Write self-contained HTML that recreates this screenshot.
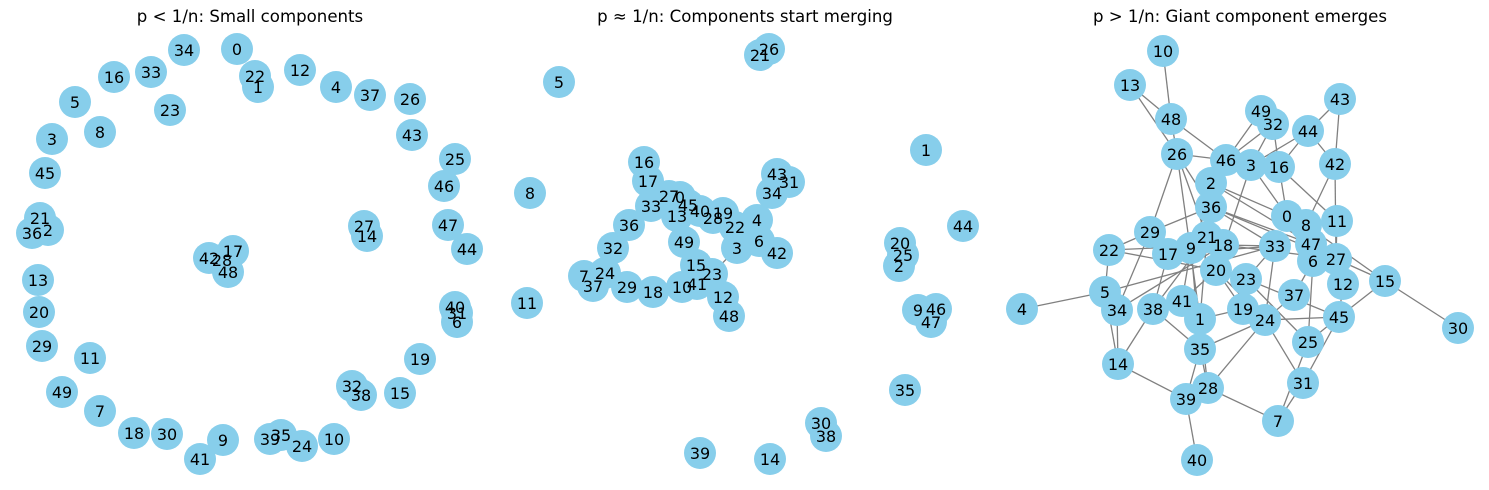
<!DOCTYPE html>
<html><head><meta charset="utf-8"><style>
body{margin:0;background:#fff;}
svg{display:block;font-family:"DejaVu Sans","Liberation Sans",sans-serif;}
</style></head><body>
<svg id="chart" width="1489" height="490" viewBox="0 0 1489 490">
<text x="250" y="22" text-anchor="middle" font-size="16.6">p &lt; 1/n: Small components</text>
<text x="745" y="22" text-anchor="middle" font-size="16.6">p ≈ 1/n: Components start merging</text>
<text x="1240" y="22" text-anchor="middle" font-size="16.6">p &gt; 1/n: Giant component emerges</text>
<g id="g1"></g>
<g id="g2"></g>
<g id="g3"></g>
</svg>
<script>
const pos1 = {34:[184,50],0:[237,49],22:[255,76],1:[258,87],12:[300,70],4:[336,87],37:[370,95],26:[410,99],16:[114,77],33:[151,72],23:[170,110],5:[75,102],8:[100,132],3:[52,139],45:[45,173],21:[40,218],2:[48,230],36:[32,233],13:[38,280],20:[39,312],29:[42,346],11:[90,358],49:[62,392],7:[100,411],18:[134,433],30:[167,434],9:[223,440],41:[200,459],39:[270,439],35:[281,435],24:[302,446],10:[334,439],15:[400,393],32:[352,386],38:[361,395],19:[420,359],40:[455,307],31:[457,313],6:[457,322],44:[467,249],47:[448,225],46:[444,186],25:[455,159],43:[412,135],27:[364,226],14:[367,236],42:[209,258],28:[222,260],17:[233,251],48:[228,272]};
const edges1 = [];
const pos2 = {5:[559,82],21:[760,55],26:[769,49],1:[926,150],8:[530,193],44:[963,226],20:[900,243],25:[903,255],2:[899,266],11:[527,303],9:[918,310],46:[936,309],47:[931,322],35:[905,390],30:[821,423],38:[826,436],39:[700,453],14:[770,459],16:[644,162],17:[648,181],27:[669,196],0:[680,197],45:[688,205],33:[651,206],13:[677,216],40:[700,211],28:[713,218],19:[723,213],22:[735,227],4:[757,220],43:[777,174],31:[789,182],34:[772,193],36:[629,225],49:[684,242],6:[759,241],42:[777,253],3:[737,248],32:[613,248],15:[696,265],23:[712,274],7:[584,276],24:[605,273],37:[593,286],29:[627,287],18:[653,292],10:[682,287],41:[697,284],12:[723,297],48:[729,316]};
const edges2 = [[3,23]];
const pos3 = {10:[1163,51],13:[1130,85],48:[1171,119],26:[1177,154],46:[1226,160],2:[1211,183],36:[1211,207],29:[1150,232],22:[1109,250],17:[1168,254],9:[1191,248],21:[1207,237],49:[1261,111],32:[1273,124],44:[1308,131],43:[1340,99],3:[1251,165],16:[1279,167],42:[1335,164],0:[1287,216],8:[1306,225],11:[1337,221],18:[1223,245],33:[1275,246],47:[1311,244],6:[1313,261],27:[1336,259],20:[1216,270],23:[1246,279],15:[1385,281],12:[1343,284],37:[1294,295],5:[1105,292],4:[1022,309],34:[1117,310],38:[1153,309],41:[1182,301],1:[1200,319],19:[1243,309],24:[1265,320],45:[1339,317],25:[1308,342],35:[1200,349],14:[1118,364],28:[1208,388],39:[1186,399],31:[1303,383],7:[1278,421],40:[1197,460],30:[1458,328]};
const edges3 = [[10,48],[13,48],[13,26],[48,26],[48,46],[26,46],[26,36],[26,29],[26,21],[26,1],[46,49],[46,32],[46,9],[3,32],[3,44],[3,0],[3,20],[16,44],[16,32],[16,0],[16,11],[44,43],[44,42],[43,42],[42,8],[42,27],[2,0],[2,47],[36,29],[36,33],[36,21],[29,22],[29,17],[29,34],[22,5],[22,18],[17,33],[17,38],[9,41],[9,35],[21,1],[18,33],[18,20],[18,27],[18,34],[33,23],[33,24],[0,8],[0,47],[8,15],[11,27],[27,12],[27,15],[6,37],[6,25],[20,19],[20,24],[20,22],[23,19],[23,45],[23,25],[37,24],[45,25],[45,15],[45,31],[5,4],[5,34],[5,14],[5,33],[34,14],[38,14],[38,35],[41,1],[1,19],[1,28],[35,24],[35,28],[35,39],[24,28],[24,31],[24,45],[14,39],[39,40],[28,7],[31,7],[25,7],[15,30],[12,45],[36,27],[41,20],[38,21],[36,47],[49,32]];
const NS='http://www.w3.org/2000/svg';
function draw(gid,pos,edges){
  const g=document.getElementById(gid);
  edges.forEach(e=>{
    const a=pos[e[0]],b=pos[e[1]];
    const l=document.createElementNS(NS,'line');
    
    
    l.setAttribute('x1',a[0]);l.setAttribute('y1',a[1]);l.setAttribute('x2',b[0]);l.setAttribute('y2',b[1]);
    l.setAttribute('stroke','#808080');l.setAttribute('stroke-width','1.3');
    g.appendChild(l);
  });
  Object.keys(pos).forEach(k=>{
    const p=pos[k];
    const c=document.createElementNS(NS,'circle');
    
    
    c.setAttribute('cx',p[0]);c.setAttribute('cy',p[1]);c.setAttribute('r',16);c.setAttribute('fill','#87ceeb');
    g.appendChild(c);
  });
  Object.keys(pos).forEach(k=>{
    const p=pos[k];
    const t=document.createElementNS(NS,'text');
    
    
    t.setAttribute('x',p[0]);t.setAttribute('y',p[1]+5.8);t.setAttribute('text-anchor','middle');t.setAttribute('font-size','16');
    t.textContent=k;
    g.appendChild(t);
  });
}
draw('g1',pos1,edges1);
draw('g2',pos2,edges2);
draw('g3',pos3,edges3);
</script>
</body></html>
